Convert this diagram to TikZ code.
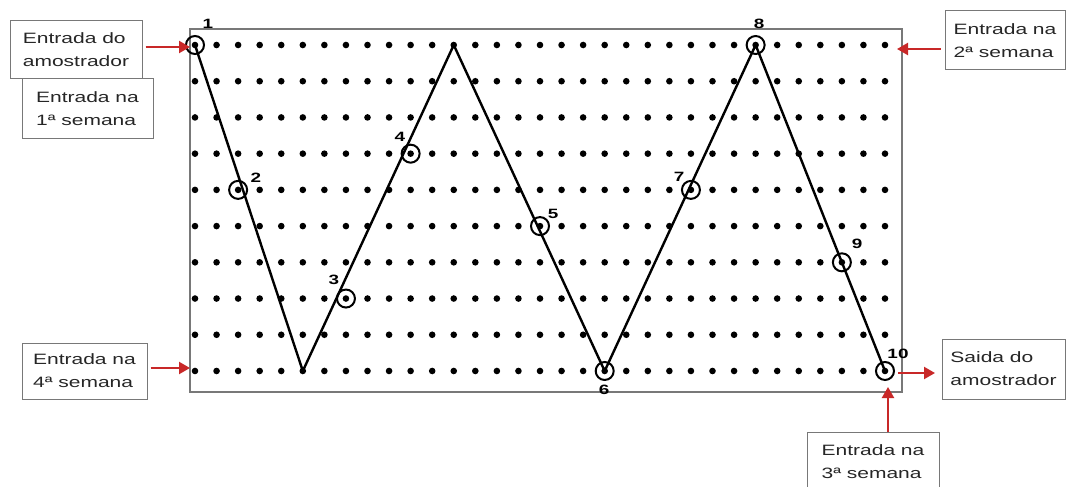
\documentclass[tikz,border=0pt]{standalone}
\usepackage{fontspec}
\setmainfont{Liberation Sans}[FakeStretch=1.4]
\usetikzlibrary{arrows.meta}
\definecolor{arrowred}{RGB}{200,40,40}
\definecolor{boxgray}{RGB}{120,120,120}
\tikzset{
 box/.style={draw=boxgray, line width=1pt, align=left, inner sep=0pt, font=\fontsize{15}{23}\selectfont, text=black!85},
 ring/.style={circle, draw, line width=2pt, minimum size=18pt, inner sep=0pt},
 num/.style={font=\bfseries\fontsize{13.5}{13.5}\selectfont, inner sep=0pt},
 zig/.style={line width=2.4pt, line join=round},
 redarrow/.style={draw=arrowred, line width=2.2pt, -{Triangle[length=11pt,width=12pt]}},
 frame/.style={draw=boxgray, line width=1.1pt}
}
\begin{document}
\begin{tikzpicture}[x=1pt,y=-1pt]
\useasboundingbox[fill=white] (0,0) rectangle (1066,487);
\draw[frame] (190,29) rectangle (902,392);
\begin{scope}[shift={(195,45)}, x=21.5625pt, y=-36.22pt]
  \foreach \i in {0,...,32}
    \foreach \j in {0,...,9}
      \fill (\i,\j) circle[radius=3.3pt];
  \coordinate (v1) at (0,0);
  \coordinate (v2) at (5,9);
  \coordinate (v3) at (12,0);
  \coordinate (v4) at (19,9);
  \coordinate (v5) at (26,0);
  \coordinate (v6) at (32,9);
  \draw[zig] (v1) -- (v2) -- (v3) -- (v4) -- (v5) -- (v6);
  \node[ring] (c1) at (0,0) {};
  \node[ring] (c2) at (2,4) {};
  \node[ring] (c3) at (7,7) {};
  \node[ring] (c4) at (10,3) {};
  \node[ring] (c5) at (16,5) {};
  \node[ring] (c6) at (19,9) {};
  \node[ring] (c7) at (23,4) {};
  \node[ring] (c8) at (26,0) {};
  \node[ring] (c9) at (30,6) {};
  \node[ring] (c10) at (32,9) {};
\end{scope}
\node[num] (n1) at (208,24) {1};
\node[num] (n2) at (256,178) {2};
\node[num] (n3) at (334,280) {3};
\node[num] (n4) at (400,137) {4};
\node[num] (n5) at (553,214) {5};
\node[num] (n6) at (604,390) {6};
\node[num] (n7) at (679,177) {7};
\node[num] (n8) at (759,24) {8};
\node[num] (n9) at (857,244) {9};
\node[num] (n10) at (898,354) {10};

\node[box, minimum width=132pt, minimum height=58pt] (b1) at (76,50) {Entrada do\\amostrador};
\node[box, minimum width=131pt, minimum height=59pt] (b2) at (87.5,108.5) {Entrada na\\1ª semana};
\node[box, minimum width=120pt, minimum height=59pt] (b3) at (1005,40.5) {Entrada na\\2ª semana};
\node[box, minimum width=125pt, minimum height=56pt] (b4) at (84.5,371) {Entrada na\\4ª semana};
\node[box, minimum width=123pt, minimum height=60pt] (b5) at (1003.5,369) {Saida do\\amostrador};
\node[box, minimum width=132pt, minimum height=60pt] (b6) at (873,462) {Entrada na\\3ª semana};

\coordinate (t1) at (190,47);
\coordinate (t3) at (897,49);
\coordinate (t4) at (190,368);
\coordinate (s5) at (898,373);
\coordinate (t5) at (935,373);
\coordinate (t6) at (888,387);
\draw[redarrow] (b1.east |- t1) ++(3,0) -- (t1);
\draw[redarrow] (b3.west |- t3) ++(-4,0) -- (t3);
\draw[redarrow] (b4.east |- t4) ++(3,0) -- (t4);
\draw[redarrow] (s5) -- (t5);
\draw[redarrow] (b6.north -| t6) -- (t6);
\end{tikzpicture}
\end{document}
